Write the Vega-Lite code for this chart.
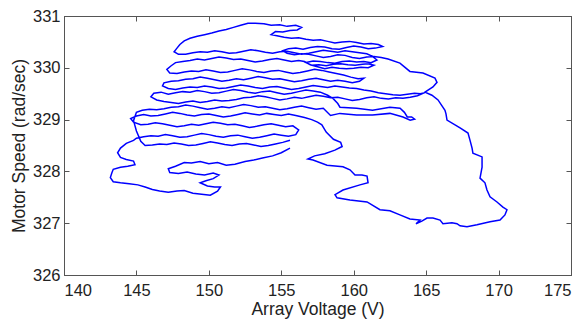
{
  "$schema": "https://vega.github.io/schema/vega-lite/v6.json",
  "width": 507,
  "height": 259,
  "autosize": {"type": "none"},
  "padding": {"left": 64, "top": 16, "right": 16, "bottom": 45},
  "background": "white",
  "config": {
    "view": {"stroke": "#555", "strokeWidth": 1},
    "axis": {
      "grid": false,
      "domainColor": "#555",
      "tickColor": "#555",
      "tickSize": -5,
      "labelColor": "#222",
      "titleColor": "#222",
      "labelFont": "Liberation Sans",
      "titleFont": "Liberation Sans",
      "labelFontSize": 16.5,
      "titleFontSize": 17.5,
      "titleFontWeight": "normal"
    }
  },
  "data": {"values": [
{"v":155.6,"s":328.45},{"v":155.0,"s":328.36},{"v":154.4,"s":328.30},{"v":153.7,"s":328.26},{"v":153.1,"s":328.22},{"v":152.5,"s":328.19},{"v":151.8,"s":328.14},{"v":151.2,"s":328.12},{"v":150.6,"s":328.17},{"v":150.0,"s":328.15},{"v":149.4,"s":328.19},{"v":148.8,"s":328.16},{"v":148.3,"s":328.17},{"v":147.7,"s":328.10},{"v":147.2,"s":328.05},{"v":147.3,"s":327.98},{"v":147.9,"s":327.96},{"v":148.5,"s":327.99},{"v":149.1,"s":327.95},{"v":149.7,"s":327.93},{"v":150.3,"s":327.97},{"v":150.7,"s":327.93},{"v":150.3,"s":327.86},{"v":149.8,"s":327.82},{"v":149.4,"s":327.78},{"v":149.9,"s":327.72},{"v":150.4,"s":327.70},{"v":150.8,"s":327.70},{"v":150.6,"s":327.62},{"v":150.1,"s":327.54},{"v":149.5,"s":327.56},{"v":148.9,"s":327.58},{"v":148.3,"s":327.63},{"v":147.8,"s":327.62},{"v":147.2,"s":327.60},{"v":146.6,"s":327.62},{"v":146.1,"s":327.65},{"v":145.6,"s":327.70},{"v":145.1,"s":327.74},{"v":144.5,"s":327.76},{"v":143.9,"s":327.78},{"v":143.4,"s":327.80},{"v":143.2,"s":327.88},{"v":143.3,"s":327.97},{"v":143.4,"s":328.04},{"v":143.9,"s":328.08},{"v":144.4,"s":328.10},{"v":144.9,"s":328.13},{"v":144.8,"s":328.20},{"v":144.3,"s":328.23},{"v":143.9,"s":328.27},{"v":143.7,"s":328.36},{"v":143.9,"s":328.45},{"v":144.3,"s":328.54},{"v":144.8,"s":328.60},
{"v":145.0,"s":328.64},{"v":145.5,"s":328.67},{"v":146.0,"s":328.69},{"v":146.5,"s":328.68},{"v":147.0,"s":328.71},{"v":147.5,"s":328.69},{"v":148.0,"s":328.66},{"v":148.5,"s":328.67},{"v":149.0,"s":328.70},{"v":149.5,"s":328.73},{"v":150.0,"s":328.71},{"v":150.5,"s":328.68},{"v":151.0,"s":328.66},{"v":151.5,"s":328.69},{"v":152.0,"s":328.70},{"v":152.5,"s":328.67},{"v":153.0,"s":328.64},{"v":153.5,"s":328.66},{"v":154.0,"s":328.69},{"v":154.5,"s":328.72},{"v":155.0,"s":328.70},{"v":155.5,"s":328.68},{"v":156.0,"s":328.71},{"v":156.2,"s":328.80},
{"v":155.8,"s":328.88},{"v":155.3,"s":328.86},{"v":154.8,"s":328.89},{"v":154.3,"s":328.92},{"v":153.8,"s":328.90},{"v":153.3,"s":328.87},{"v":152.8,"s":328.85},{"v":152.3,"s":328.88},{"v":151.8,"s":328.91},{"v":151.3,"s":328.90},{"v":150.8,"s":328.93},{"v":150.3,"s":328.95},{"v":149.8,"s":328.92},{"v":149.3,"s":328.89},{"v":148.8,"s":328.91},{"v":148.3,"s":328.88},{"v":147.8,"s":328.86},{"v":147.3,"s":328.89},{"v":146.8,"s":328.92},{"v":146.3,"s":328.94},{"v":145.8,"s":328.91},{"v":145.3,"s":328.90},{"v":144.8,"s":328.95},{"v":144.6,"s":329.02},{"v":145.0,"s":329.07},
{"v":145.5,"s":329.10},{"v":146.0,"s":329.07},{"v":146.5,"s":329.08},{"v":147.0,"s":329.11},{"v":147.5,"s":329.14},{"v":148.0,"s":329.12},{"v":148.5,"s":329.09},{"v":149.0,"s":329.07},{"v":149.5,"s":329.10},{"v":150.0,"s":329.11},{"v":150.5,"s":329.08},{"v":151.0,"s":329.05},{"v":151.5,"s":329.07},{"v":152.0,"s":329.10},{"v":152.5,"s":329.13},{"v":153.0,"s":329.11},{"v":153.5,"s":329.09},{"v":154.0,"s":329.12},{"v":154.5,"s":329.10},{"v":155.0,"s":329.08},{"v":155.5,"s":329.11},{"v":156.0,"s":329.08},{"v":156.6,"s":329.04},{"v":157.1,"s":329.00},{"v":157.5,"s":328.95},{"v":157.8,"s":328.90},
{"v":158.1,"s":328.76},{"v":158.6,"s":328.62},{"v":159.1,"s":328.56},{"v":159.2,"s":328.48},{"v":158.7,"s":328.41},{"v":158.0,"s":328.34},{"v":157.3,"s":328.30},{"v":156.84,"s":328.24},
{"v":157.19,"s":328.22},{"v":158.16,"s":328.12},{"v":159.26,"s":328.09},{"v":159.74,"s":328.03},{"v":160.09,"s":327.93},{"v":160.57,"s":327.93},{"v":160.92,"s":327.91},{"v":160.99,"s":327.78},{"v":160.43,"s":327.74},{"v":159.26,"s":327.64},{"v":158.71,"s":327.55},{"v":158.85,"s":327.49},{"v":159.74,"s":327.45},{"v":160.92,"s":327.41},{"v":161.81,"s":327.26},{"v":162.50,"s":327.24},{"v":163.19,"s":327.16},{"v":163.88,"s":327.08},{"v":164.58,"s":327.06},{"v":164.3,"s":326.99},{"v":164.7,"s":327.04},{"v":165.06,"s":327.10},{"v":165.47,"s":327.10},{"v":165.96,"s":327.06},{"v":166.16,"s":326.99},{"v":166.78,"s":327.01},{"v":167.13,"s":326.99},{"v":167.34,"s":326.95},{"v":167.82,"s":326.93},{"v":168.51,"s":326.97},{"v":169.41,"s":327.03},{"v":170.10,"s":327.06},{"v":170.44,"s":327.16},{"v":170.58,"s":327.26},{"v":170.30,"s":327.31},{"v":169.89,"s":327.41},{"v":169.41,"s":327.51},{"v":169.20,"s":327.64},{"v":169.06,"s":327.78},{"v":168.72,"s":327.87},{"v":168.86,"s":328.08},{"v":168.86,"s":328.28},{"v":168.23,"s":328.35},{"v":168.17,"s":328.45},{"v":168.03,"s":328.60},{"v":167.89,"s":328.74},{"v":167.34,"s":328.84},{"v":166.44,"s":328.99},{"v":166.37,"s":329.11},{"v":166.30,"s":329.18},{"v":165.82,"s":329.38},{"v":165.40,"s":329.47},{"v":164.92,"s":329.53},{"v":165.47,"s":329.63},{"v":165.75,"s":329.72},{"v":165.61,"s":329.80},{"v":164.78,"s":329.90},{"v":163.88,"s":329.93},{"v":163.19,"s":330.09},{"v":162.37,"s":330.17},
{"v":161.9,"s":330.20},{"v":161.4,"s":330.22},{"v":160.9,"s":330.21},{"v":160.4,"s":330.18},{"v":159.9,"s":330.20},{"v":159.4,"s":330.24},{"v":158.9,"s":330.25},{"v":158.4,"s":330.22},{"v":157.9,"s":330.20},{"v":157.4,"s":330.23},{"v":156.9,"s":330.26},{"v":156.4,"s":330.27},{"v":155.9,"s":330.25},{"v":155.4,"s":330.28},{"v":155.1,"s":330.33},{"v":155.5,"s":330.37},{"v":156.0,"s":330.38},{"v":156.5,"s":330.36},{"v":157.0,"s":330.39},{"v":157.5,"s":330.41},{"v":158.0,"s":330.40},{"v":158.5,"s":330.37},{"v":159.0,"s":330.36},{"v":159.5,"s":330.39},{"v":160.0,"s":330.42},{"v":160.5,"s":330.40},{"v":161.0,"s":330.37},{"v":161.5,"s":330.38},{"v":162.0,"s":330.41},{"v":161.7,"s":330.45},{"v":161.2,"s":330.47},{"v":160.7,"s":330.46},{"v":160.2,"s":330.49},{"v":159.7,"s":330.51},{"v":159.2,"s":330.50},{"v":158.7,"s":330.48},{"v":158.2,"s":330.51},{"v":157.7,"s":330.54},{"v":157.2,"s":330.53},{"v":156.7,"s":330.55},{"v":156.2,"s":330.58},{"v":155.7,"s":330.57},{"v":155.2,"s":330.59},{"v":154.7,"s":330.62},{"v":154.3,"s":330.64},{"v":154.6,"s":330.70},{"v":155.1,"s":330.69},{"v":155.6,"s":330.72},{"v":156.1,"s":330.73},{"v":156.4,"s":330.78},{"v":156.0,"s":330.82},{"v":155.4,"s":330.80},{"v":154.9,"s":330.83},{"v":154.3,"s":330.82},{"v":153.8,"s":330.85},{"v":153.2,"s":330.86},{"v":152.7,"s":330.86},{"v":152.2,"s":330.82},{"v":151.7,"s":330.78},{"v":151.2,"s":330.74},{"v":150.7,"s":330.71},{"v":150.2,"s":330.67},{"v":149.7,"s":330.64},{"v":149.2,"s":330.61},{"v":148.7,"s":330.57},{"v":148.3,"s":330.52},{"v":148.0,"s":330.45},{"v":147.8,"s":330.38},{"v":147.6,"s":330.31},{"v":147.9,"s":330.26},
{"v":148.4,"s":330.26},{"v":148.9,"s":330.29},{"v":149.4,"s":330.31},{"v":149.9,"s":330.30},{"v":150.4,"s":330.33},{"v":150.9,"s":330.31},{"v":151.4,"s":330.28},{"v":151.9,"s":330.29},{"v":152.4,"s":330.32},{"v":152.9,"s":330.35},{"v":153.4,"s":330.33},{"v":153.9,"s":330.30},{"v":154.4,"s":330.28},{"v":154.9,"s":330.31},{"v":155.4,"s":330.32},{"v":155.9,"s":330.29},{"v":156.4,"s":330.26},{"v":156.9,"s":330.28},{"v":157.4,"s":330.31},{"v":157.9,"s":330.34},{"v":158.4,"s":330.32},{"v":158.9,"s":330.30},{"v":159.4,"s":330.33},{"v":159.9,"s":330.31},{"v":160.4,"s":330.29},{"v":160.9,"s":330.27},{"v":161.3,"s":330.22},{"v":161.6,"s":330.15},{"v":161.2,"s":330.10},{"v":160.7,"s":330.12},{"v":160.2,"s":330.11},{"v":159.7,"s":330.13},{"v":159.2,"s":330.12},{"v":158.7,"s":330.09},{"v":158.2,"s":330.10},{"v":157.7,"s":330.12},{"v":157.2,"s":330.13},{"v":156.7,"s":330.10},
{"v":157.1,"s":330.05},{"v":157.6,"s":330.06},{"v":158.1,"s":330.04},{"v":158.6,"s":330.07},{"v":159.1,"s":330.08},{"v":159.6,"s":330.06},{"v":160.1,"s":330.05},{"v":160.6,"s":330.07},{"v":161.0,"s":330.08},{"v":161.4,"s":330.05},{"v":161.0,"s":330.00},{"v":160.5,"s":330.01},{"v":160.0,"s":329.99},{"v":159.5,"s":329.98},{"v":159.0,"s":329.99},{"v":158.5,"s":330.01},{"v":158.0,"s":329.98},{"v":157.5,"s":330.02},{"v":157.0,"s":330.06},{"v":156.6,"s":330.12},
{"v":156.2,"s":330.14},{"v":155.7,"s":330.12},{"v":155.2,"s":330.15},{"v":154.7,"s":330.18},{"v":154.2,"s":330.16},{"v":153.7,"s":330.13},{"v":153.2,"s":330.11},{"v":152.7,"s":330.14},{"v":152.2,"s":330.17},{"v":151.7,"s":330.16},{"v":151.2,"s":330.19},{"v":150.7,"s":330.21},{"v":150.2,"s":330.18},{"v":149.7,"s":330.15},{"v":149.2,"s":330.17},{"v":148.7,"s":330.14},{"v":148.2,"s":330.12},{"v":147.7,"s":330.10},{"v":147.4,"s":330.04},{"v":147.1,"s":329.97},{"v":147.3,"s":329.90},
{"v":147.8,"s":329.89},{"v":148.3,"s":329.92},{"v":148.8,"s":329.94},{"v":149.3,"s":329.93},{"v":149.8,"s":329.96},{"v":150.3,"s":329.94},{"v":150.8,"s":329.91},{"v":151.3,"s":329.92},{"v":151.8,"s":329.95},{"v":152.3,"s":329.98},{"v":152.8,"s":329.96},{"v":153.3,"s":329.93},{"v":153.8,"s":329.91},{"v":154.3,"s":329.94},{"v":154.8,"s":329.95},{"v":155.3,"s":329.92},{"v":155.8,"s":329.89},{"v":156.3,"s":329.91},{"v":156.8,"s":329.94},{"v":157.3,"s":329.97},{"v":157.8,"s":329.95},{"v":158.3,"s":329.92},{"v":158.8,"s":329.89},{"v":159.3,"s":329.86},{"v":159.8,"s":329.82},{"v":160.3,"s":329.79},{"v":160.7,"s":329.80},{"v":160.4,"s":329.74},{"v":159.9,"s":329.71},{"v":159.4,"s":329.74},
{"v":158.9,"s":329.76},{"v":158.4,"s":329.74},{"v":157.9,"s":329.77},{"v":157.4,"s":329.80},{"v":156.9,"s":329.78},{"v":156.4,"s":329.75},{"v":155.9,"s":329.73},{"v":155.4,"s":329.76},{"v":154.9,"s":329.79},{"v":154.4,"s":329.78},{"v":153.9,"s":329.81},{"v":153.4,"s":329.83},{"v":152.9,"s":329.80},{"v":152.4,"s":329.77},{"v":151.9,"s":329.79},{"v":151.4,"s":329.76},{"v":150.9,"s":329.74},{"v":150.4,"s":329.77},{"v":149.9,"s":329.80},{"v":149.4,"s":329.82},{"v":148.9,"s":329.79},{"v":148.4,"s":329.78},{"v":147.9,"s":329.75},{"v":147.4,"s":329.74},{"v":146.9,"s":329.71},{"v":146.8,"s":329.65},{"v":147.2,"s":329.60},
{"v":147.7,"s":329.58},{"v":148.2,"s":329.61},{"v":148.7,"s":329.63},{"v":149.2,"s":329.62},{"v":149.7,"s":329.65},{"v":150.2,"s":329.63},{"v":150.7,"s":329.60},{"v":151.2,"s":329.61},{"v":151.7,"s":329.64},{"v":152.2,"s":329.67},{"v":152.7,"s":329.65},{"v":153.2,"s":329.62},{"v":153.7,"s":329.60},{"v":154.2,"s":329.63},{"v":154.7,"s":329.64},{"v":155.2,"s":329.61},{"v":155.7,"s":329.58},{"v":156.2,"s":329.60},{"v":156.7,"s":329.63},{"v":157.2,"s":329.66},{"v":157.7,"s":329.64},{"v":158.2,"s":329.62},{"v":158.7,"s":329.65},{"v":159.2,"s":329.63},{"v":159.7,"s":329.61},{"v":160.2,"s":329.60},{"v":160.7,"s":329.57},{"v":161.2,"s":329.55},{"v":161.7,"s":329.52},{"v":162.2,"s":329.50},{"v":162.7,"s":329.48},{"v":163.2,"s":329.47},{"v":163.7,"s":329.49},{"v":164.2,"s":329.51},{"v":164.6,"s":329.50},{"v":164.9,"s":329.52},
{"v":164.4,"s":329.46},{"v":163.9,"s":329.43},{"v":163.4,"s":329.41},{"v":162.9,"s":329.42},{"v":162.4,"s":329.40},{"v":161.9,"s":329.41},{"v":161.4,"s":329.44},{"v":160.9,"s":329.42},{"v":160.4,"s":329.39},{"v":159.9,"s":329.37},{"v":159.4,"s":329.40},{"v":158.9,"s":329.43},{"v":158.4,"s":329.42},{"v":157.9,"s":329.45},{"v":157.4,"s":329.47},{"v":156.9,"s":329.44},{"v":156.4,"s":329.41},{"v":155.9,"s":329.43},{"v":155.4,"s":329.40},{"v":154.9,"s":329.38},{"v":154.4,"s":329.41},{"v":153.9,"s":329.44},{"v":153.4,"s":329.46},{"v":152.9,"s":329.43},{"v":152.4,"s":329.42},{"v":151.9,"s":329.39},{"v":151.4,"s":329.37},{"v":150.9,"s":329.36},{"v":150.4,"s":329.38},{"v":149.9,"s":329.35},{"v":149.4,"s":329.33},{"v":148.9,"s":329.36},{"v":148.4,"s":329.34},{"v":147.9,"s":329.31},{"v":147.4,"s":329.33},{"v":146.9,"s":329.35},{"v":146.4,"s":329.38},{"v":146.0,"s":329.44},{"v":146.2,"s":329.51},{"v":146.7,"s":329.53},
{"v":147.2,"s":329.49},{"v":147.7,"s":329.52},{"v":148.2,"s":329.54},{"v":148.7,"s":329.53},{"v":149.2,"s":329.56},{"v":149.7,"s":329.54},{"v":150.2,"s":329.51},{"v":150.7,"s":329.52},{"v":151.2,"s":329.55},{"v":151.7,"s":329.58},{"v":152.2,"s":329.56},{"v":152.7,"s":329.53},{"v":153.2,"s":329.51},{"v":153.7,"s":329.54},{"v":154.2,"s":329.55},{"v":154.7,"s":329.52},{"v":155.2,"s":329.49},{"v":155.7,"s":329.51},{"v":156.2,"s":329.54},{"v":156.7,"s":329.57},{"v":157.2,"s":329.55},{"v":157.7,"s":329.53},{"v":158.2,"s":329.47},{"v":158.6,"s":329.40},{"v":158.9,"s":329.31},{"v":159.05,"s":329.24},
{"v":160.2,"s":329.22},{"v":161.3,"s":329.18},{"v":162.5,"s":329.24},{"v":163.2,"s":329.22},{"v":163.5,"s":329.14},{"v":163.7,"s":329.05},{"v":164.0,"s":329.05},{"v":164.2,"s":329.01},{"v":163.9,"s":328.99},{"v":163.4,"s":329.05},{"v":162.5,"s":329.12},{"v":161.3,"s":329.09},{"v":160.2,"s":329.09},{"v":159.05,"s":329.12},{"v":158.4,"s":329.08},
{"v":157.9,"s":329.22},{"v":157.4,"s":329.20},{"v":156.9,"s":329.23},{"v":156.4,"s":329.26},{"v":155.9,"s":329.24},{"v":155.4,"s":329.21},{"v":154.9,"s":329.19},{"v":154.4,"s":329.22},{"v":153.9,"s":329.25},{"v":153.4,"s":329.24},{"v":152.9,"s":329.27},{"v":152.4,"s":329.29},{"v":151.9,"s":329.26},{"v":151.4,"s":329.23},{"v":150.9,"s":329.25},{"v":150.4,"s":329.22},{"v":149.9,"s":329.20},{"v":149.4,"s":329.23},{"v":148.9,"s":329.26},{"v":148.4,"s":329.28},{"v":147.9,"s":329.25},{"v":147.4,"s":329.24},{"v":146.9,"s":329.21},{"v":146.4,"s":329.19},{"v":145.9,"s":329.20},{"v":145.4,"s":329.18},{"v":145.0,"s":329.14},
{"v":144.8,"s":328.98},{"v":145.0,"s":328.78},{"v":145.3,"s":328.58},{"v":145.6,"s":328.50},{"v":146.1,"s":328.51},{"v":146.6,"s":328.53},{"v":147.1,"s":328.52},{"v":147.6,"s":328.55},{"v":148.1,"s":328.53},{"v":148.6,"s":328.50},{"v":149.1,"s":328.51},{"v":149.6,"s":328.54},{"v":150.1,"s":328.57},{"v":150.6,"s":328.55},{"v":151.1,"s":328.52},{"v":151.6,"s":328.50},{"v":152.1,"s":328.53},{"v":152.6,"s":328.54},{"v":153.1,"s":328.51},{"v":153.6,"s":328.48},{"v":154.1,"s":328.50},{"v":154.6,"s":328.53},{"v":155.1,"s":328.56},{"v":155.6,"s":328.60}
  ]},
  "layer": [
    {
      "mark": {"type": "line", "color": "#0000ff", "strokeWidth": 1.5, "interpolate": "linear"},
      "encoding": {
        "x": {"field": "v", "type": "quantitative", "scale": {"domain": [140, 175], "nice": false, "zero": false},
              "axis": {"orient": "bottom", "values": [140,145,150,155,160,165,170,175], "title": "Array Voltage (V)", "labelPadding": 12, "titlePadding": 2}},
        "y": {"field": "s", "type": "quantitative", "scale": {"domain": [326, 331], "nice": false, "zero": false},
              "axis": {"orient": "left", "values": [326,327,328,329,330,331], "title": "Motor Speed (rad/sec)", "labelPadding": 9, "titlePadding": 4}},
        "order": {"value": null}
      }
    },
    {
      "mark": {"type": "point", "opacity": 0},
      "encoding": {
        "x": {"field": "v", "type": "quantitative", "axis": {"orient": "top", "values": [140,145,150,155,160,165,170,175], "labels": false, "title": null}},
        "y": {"field": "s", "type": "quantitative", "axis": {"orient": "right", "values": [326,327,328,329,330,331], "labels": false, "title": null}}
      }
    }
  ],
  "resolve": {"axis": {"x": "independent", "y": "independent"}}
}
